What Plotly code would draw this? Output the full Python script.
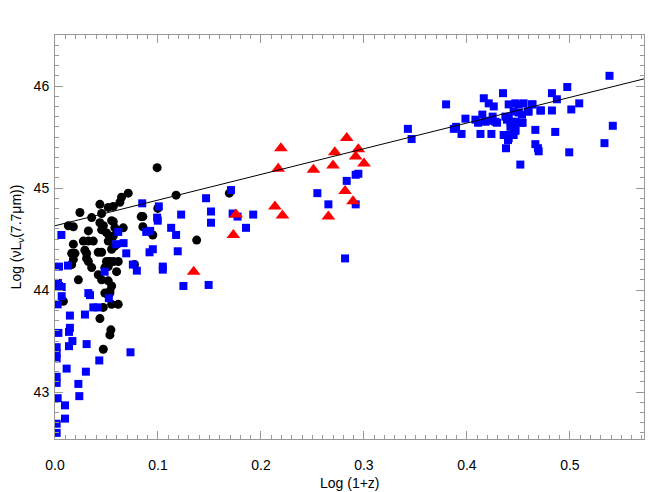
import plotly.graph_objects as go

# black circles
blk_x = [0.0992, 0.1176, 0.1376, 0.1693, 0.0711, 0.0646, 0.0630, 0.0566, 0.0517, 0.0436,
         0.0453, 0.0242, 0.0356, 0.0130, 0.0178, 0.0436, 0.0470, 0.0550, 0.0566, 0.0324,
         0.0453, 0.0501, 0.0581, 0.0663, 0.0530, 0.0566, 0.0178, 0.0275, 0.0324, 0.0372,
         0.0517, 0.0162, 0.0194, 0.0290, 0.0307, 0.0420, 0.0453, 0.0550, 0.0581, 0.0178,
         0.0162, 0.0307, 0.0324, 0.0500, 0.0533, 0.0566, 0.0614, 0.0356, 0.0484, 0.0517,
         0.0598, 0.0420, 0.0453, 0.0227, 0.0517, 0.0550, 0.0533, 0.0517, 0.0081, 0.0484,
         0.0533, 0.0550, 0.0614, 0.0469, 0.0436, 0.0543, 0.0533, 0.0469, 0.0853, 0.0853,
         0.0950, 0.0998, 0.0837, 0.0772]
blk_y = [45.20, 44.93, 44.49, 44.95, 44.95, 44.91, 44.86, 44.82, 44.81, 44.84,
         44.75, 44.76, 44.71, 44.63, 44.62, 44.66, 44.63, 44.68, 44.67, 44.58,
         44.59, 44.56, 44.61, 44.61, 44.52, 44.53, 44.45, 44.48, 44.48, 44.48,
         44.48, 44.36, 44.36, 44.39, 44.36, 44.37, 44.37, 44.40, 44.43, 44.30,
         44.25, 44.31, 44.28, 44.28, 44.28, 44.28, 44.28, 44.22, 44.22, 44.23,
         44.18, 44.15, 44.10, 44.10, 44.09, 44.04, 43.99, 43.95, 43.89, 43.97,
         43.97, 43.86, 43.86, 43.83, 43.72, 43.61, 43.56, 43.42, 44.72, 44.62,
         44.54, 44.80, 44.72, 44.25]

# blue squares
blu_x = [0.0062, 0.0039, 0.0126, 0.0028, 0.0039, 0.0065, 0.0065, 0.0026, 0.0340, 0.0324,
         0.0523, 0.0372, 0.0414, 0.0145, 0.0291, 0.0145, 0.0136, 0.0033, 0.0169, 0.0136,
         0.0307, 0.0016, 0.0016, 0.0016, 0.0733, 0.0430, 0.0113, 0.0300, 0.0016, 0.0016,
         0.0227, 0.0236, 0.0026, 0.0097, 0.0097, 0.0016, 0.0016, 0.0482, 0.0595, 0.0666,
         0.0614, 0.0692, 0.0756, 0.0795, 0.0847, 0.0886, 0.0924, 0.0918, 0.0950, 0.0998,
         0.0992, 0.1008, 0.1047, 0.1047, 0.1128, 0.1176, 0.1192, 0.1225, 0.1247, 0.1467,
         0.1515, 0.1515, 0.1492, 0.1709, 0.1725, 0.1773, 0.1855, 0.1925, 0.2548, 0.2655,
         0.2833, 0.2920, 0.2946, 0.2920, 0.2817,
         0.3427, 0.3463, 0.3798, 0.3873, 0.3895, 0.3948, 0.3986, 0.4083, 0.4109, 0.4132,
         0.4164, 0.4212, 0.4261, 0.4180, 0.4229, 0.4277, 0.4293, 0.4238, 0.4351, 0.4367,
         0.4380, 0.4406, 0.4471, 0.4503, 0.4551, 0.4632, 0.4374, 0.4406, 0.4423, 0.4454,
         0.4503, 0.4535, 0.4464, 0.4471, 0.4454, 0.4406, 0.4541, 0.4519, 0.4600, 0.4638,
         0.4719, 0.4665, 0.4665, 0.4690, 0.4697, 0.4826, 0.4826, 0.4874, 0.4858, 0.4975,
         0.5014, 0.5091, 0.4994, 0.5385, 0.5417, 0.5336, 0.4389, 0.4471, 0.4423, 0.4471,
         0.4389, 0.4357, 0.4399, 0.4535, 0.4593, 0.4713, 0.4150, 0.4250]
blu_y = [44.54, 44.23, 44.24, 44.07, 44.04, 44.03, 43.94, 43.86, 43.95, 43.97,
         43.92, 43.83, 43.83, 43.75, 43.76, 43.63, 43.59, 43.58, 43.50, 43.45,
         43.47, 43.44, 43.38, 43.33, 43.39, 43.31, 43.23, 43.20, 43.15, 43.09,
         43.08, 42.96, 42.94, 42.87, 42.74, 42.69, 42.60, 44.18, 44.45, 44.46,
         44.57, 44.36, 44.25, 44.19, 44.85, 44.57, 44.58, 44.37, 44.40, 44.68,
         44.71, 44.82, 44.23, 44.20, 44.61, 44.54, 44.38, 44.74, 44.04, 44.90,
         44.77, 44.66, 44.05, 44.98, 44.75, 44.72, 44.61, 44.74, 44.95, 44.84,
         45.07, 45.13, 45.14, 44.84, 44.31,
         45.58, 45.48, 45.82, 45.58, 45.60, 45.53, 45.68, 45.67, 45.64, 45.53,
         45.88, 45.83, 45.80, 45.65, 45.66, 45.65, 45.64, 45.53, 45.93, 45.52,
         45.39, 45.82, 45.83, 45.82, 45.83, 45.82, 45.70, 45.69, 45.65, 45.75,
         45.74, 45.72, 45.60, 45.56, 45.52, 45.49, 45.64, 45.23, 45.75, 45.82,
         45.76, 45.57, 45.43, 45.39, 45.36, 45.93, 45.76, 45.87, 45.55, 45.99,
         45.77, 45.83, 45.35, 46.10, 45.61, 45.44, 45.67, 45.65, 45.60, 45.57,
         45.52, 45.52, 45.47, 45.64, 45.75, 45.76, 45.72, 45.70]

# red triangles
red_x = [0.1347, 0.1758, 0.1732, 0.2194, 0.2168, 0.2136, 0.2209, 0.2510, 0.2700, 0.2717,
         0.2833, 0.2946, 0.2920, 0.3001, 0.2817, 0.2894, 0.2655]
red_y = [44.18, 44.74, 44.54, 45.39, 45.19, 44.82, 44.73, 45.18, 45.22, 45.35,
         45.49, 45.38, 45.31, 45.24, 44.97, 44.87, 44.72]

# fitted line end points
fit_x = [0.0, 0.572]
fit_y = [44.63, 46.07]

fig = go.Figure()
fig.add_trace(go.Scatter(x=blk_x, y=blk_y, mode="markers",
                         marker=dict(symbol="circle", size=9, color="black")))
fig.add_trace(go.Scatter(x=blu_x, y=blu_y, mode="markers",
                         marker=dict(symbol="square", size=8, color="#0000ff")))
fig.add_trace(go.Scatter(x=red_x, y=red_y, mode="markers",
                         marker=dict(symbol="triangle-up", size=12, color="#ff0000")))
fig.add_trace(go.Scatter(x=fit_x, y=fit_y, mode="lines",
                         line=dict(color="black", width=1)))

axis_style = dict(showline=True, linecolor="#999999", linewidth=1, mirror="ticks",
                  ticks="inside", ticklen=8, tickcolor="#999999", showgrid=False,
                  zeroline=False, automargin=False,
                  tickfont=dict(size=14, color="black"))

fig.update_xaxes(range=[0, 0.572], dtick=0.1, tick0=0, tickformat=".1f",
                 ticklabelstandoff=13,
                 minor=dict(ticks="inside", dtick=0.01, ticklen=4, tickcolor="#999999"),
                 **axis_style)
fig.update_yaxes(range=[42.54, 46.5], dtick=1, tick0=43, ticklabelstandoff=2,
                 title=dict(text="Log (νL<sub>ν</sub>(7.7μm))",
                            font=dict(size=14, color="black"), standoff=8),
                 minor=dict(ticks="inside", dtick=0.1, ticklen=4, tickcolor="#999999"),
                 **axis_style)

# x title as an annotation so it sits below the pushed-down tick labels
fig.add_annotation(text="Log (1+z)", x=0.5, y=0, xref="paper", yref="paper",
                   xanchor="center", yanchor="top", yshift=-34, showarrow=False,
                   font=dict(size=14, color="black"))

# page has an 8px body margin, so size and margins are shifted to keep the box in place
fig.update_layout(width=659, height=484, showlegend=False,
                  margin=dict(l=47, r=23, t=27, b=53),
                  plot_bgcolor="white", paper_bgcolor="white",
                  font=dict(family="Liberation Sans, Arial, sans-serif"))

fig.write_html("out.html")
